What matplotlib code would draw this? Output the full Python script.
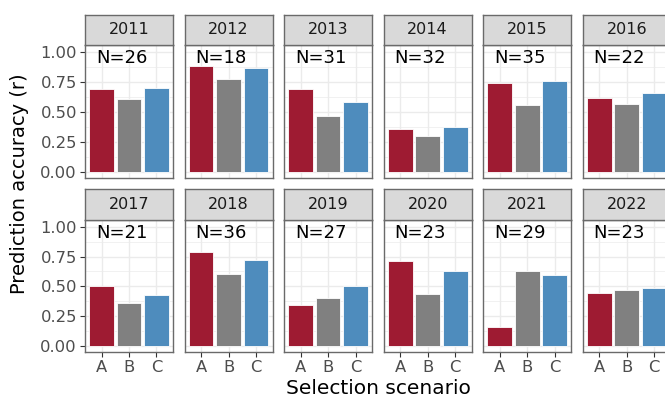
import matplotlib
matplotlib.use("Agg")
import matplotlib.pyplot as plt
import numpy as np

# accuracy per year and selection scenario
years = ["2011", "2012", "2013", "2014", "2015", "2016",
         "2017", "2018", "2019", "2020", "2021", "2022"]
n_lines = [26, 18, 31, 32, 35, 22, 21, 36, 27, 23, 29, 23]
scenarios = ["A", "B", "C"]
acc_A = [0.688, 0.879, 0.688, 0.357, 0.738, 0.619,
         0.504, 0.790, 0.343, 0.709, 0.158, 0.443]
acc_B = [0.608, 0.771, 0.464, 0.303, 0.558, 0.564,
         0.360, 0.604, 0.401, 0.438, 0.629, 0.471]
acc_C = [0.697, 0.862, 0.580, 0.376, 0.760, 0.660,
         0.430, 0.721, 0.501, 0.626, 0.596, 0.485]
cols = ["#9E1B32", "#808080", "#4E8CBD"]

W, H = 665, 396
fig = plt.figure(figsize=(W / 100, H / 100), dpi=100)

def box(x0, y0, w, h):
    # pixel box (top-left origin) -> figure fraction
    return [x0 / W, 1 - (y0 + h) / H, w / W, h / H]

lefts = [85 + 99.55 * i for i in range(6)]
pw = 88
rows = [(15, 45, 178), (189, 220, 352)]  # strip top, panel top, panel bottom
border = "#6a6a6a"

for k, yr in enumerate(years):
    r, c = divmod(k, 6)
    st, pt, pb = rows[r]
    x0 = lefts[c]
    ax = fig.add_axes(box(x0, pt, pw, pb - pt))
    vals = [acc_A[k], acc_B[k], acc_C[k]]
    xs = np.arange(1, 4)
    ax.set_axisbelow(True)
    ax.bar(xs, vals, width=0.9, color=cols, edgecolor="white", linewidth=0.6, zorder=2)
    ax.set_xlim(0.4, 3.6)
    ax.set_ylim(-0.048, 1.055)
    ax.set_yticks([0, 0.25, 0.5, 0.75, 1.0])
    ax.set_yticks(np.arange(0.125, 1.0, 0.25), minor=True)
    ax.set_xticks(xs)
    ax.grid(which="major", color="#EBEBEB", linewidth=1.0)
    ax.grid(which="minor", axis="y", color="#EBEBEB", linewidth=0.5)
    ax.text(1.73, 0.904, f"N={n_lines[k]}", ha="center", va="baseline",
            fontsize=13, color="black", zorder=3)
    for s in ax.spines.values():
        s.set_color(border)
        s.set_linewidth(1.0)
    ax.tick_params(which="minor", length=0)
    ax.tick_params(which="major", length=3.8, width=0.8, color="#333333",
                   labelcolor="#4D4D4D", labelsize=11.8, pad=2)
    if c == 0:
        ax.set_yticklabels(["0.00", "0.25", "0.50", "0.75", "1.00"])
    else:
        ax.tick_params(axis="y", length=0, labelleft=False)
    if r == 1:
        ax.set_xticklabels(scenarios)
    else:
        ax.tick_params(axis="x", length=0, labelbottom=False)

    # facet strip
    sx = fig.add_axes(box(x0, st, pw, pt - st))
    sx.set_facecolor("#D9D9D9")
    sx.set_xticks([])
    sx.set_yticks([])
    for s in sx.spines.values():
        s.set_color(border)
        s.set_linewidth(1.0)
    sx.text(0.5, 0.5, yr, ha="center", va="center", fontsize=11.5,
            color="#1A1A1A", transform=sx.transAxes)

fig.text(20 / W, 1 - 184 / H, "Prediction accuracy (r)", rotation=90,
         ha="center", va="center", fontsize=14, color="black")
fig.text(378 / W, 1 - 388 / H, "Selection scenario", ha="center",
         va="center", fontsize=14.5, color="black")

fig.savefig("out.png", dpi=100)
